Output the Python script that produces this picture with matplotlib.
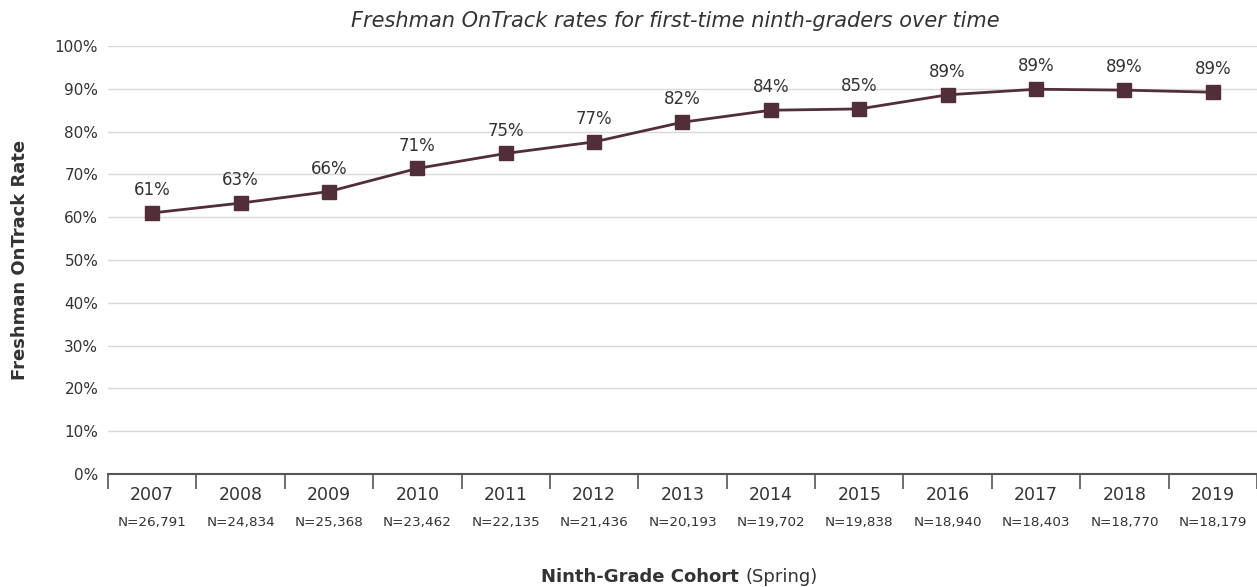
import matplotlib.pyplot as plt
import matplotlib.transforms as mtransforms
import numpy as np

years = ['2007', '2008', '2009', '2010', '2011', '2012', '2013',
         '2014', '2015', '2016', '2017', '2018', '2019']
counts = ['N=26,791', 'N=24,834', 'N=25,368', 'N=23,462', 'N=22,135', 'N=21,436',
          'N=20,193', 'N=19,702', 'N=19,838', 'N=18,940', 'N=18,403', 'N=18,770',
          'N=18,179']
rates = [61.0, 63.3, 66.0, 71.4, 74.9, 77.6, 82.2, 85.0, 85.3, 88.6, 89.9, 89.7, 89.2]
labels = ['61%', '63%', '66%', '71%', '75%', '77%', '82%',
          '84%', '85%', '89%', '89%', '89%', '89%']

plt.rcParams['font.family'] = ['DejaVu Sans']
text_color = '#333333'
line_color = '#522e39'

fig = plt.figure(figsize=(12.57, 5.87), dpi=100)
ax = fig.add_axes([0.0859, 0.1925, 0.9141, 0.7291])

x = np.arange(len(years))
ax.plot(x, rates, color=line_color, linewidth=2, marker='s', markersize=9.5,
        zorder=3)

for xi, r, lab in zip(x, rates, labels):
    ax.annotate(lab, (xi, r), xytext=(0, 10), textcoords='offset points',
                ha='center', va='bottom', fontsize=12, color=text_color)

ax.set_xlim(-0.5, len(years) - 0.5)
ax.set_ylim(0, 100)
ax.set_yticks(np.arange(0, 101, 10))
ax.set_yticklabels([f'{v}%' for v in range(0, 101, 10)], fontsize=11,
                   color=text_color)
ax.tick_params(axis='y', length=0, pad=7)
ax.grid(axis='y', color='#d9d9d9', linewidth=1)
ax.set_axisbelow(True)

# category boundary ticks on the x axis
ax.set_xticks(np.arange(-0.5, len(years) - 0.4, 1.0))
ax.set_xticklabels([])
ax.tick_params(axis='x', length=11, width=1.2, color='#555555', direction='out')

for side in ['top', 'right', 'left']:
    ax.spines[side].set_visible(False)
ax.spines['bottom'].set_color('#555555')
ax.spines['bottom'].set_linewidth(1.5)

trans = mtransforms.blended_transform_factory(ax.transData, ax.transAxes)
for xi, yr, n in zip(x, years, counts):
    ax.text(xi, -0.049, yr, transform=trans, ha='center', va='center',
            fontsize=12.5, color=text_color)
    ax.text(xi, -0.114, n, transform=trans, ha='center', va='center',
            fontsize=9.7, color=text_color)

fig.text(0.537, 0.965, 'Freshman OnTrack rates for first-time ninth-graders over time',
         ha='center', va='center', fontsize=15, style='italic', color=text_color)
fig.text(0.016, 0.557, 'Freshman OnTrack Rate', rotation=90, ha='center',
         va='center', fontsize=13, fontweight='bold', color=text_color)

fig.text(0.593, 0.017, 'Ninth-Grade Cohort ', ha='right', va='center',
         fontsize=13, fontweight='bold', color=text_color)
fig.text(0.593, 0.017, '(Spring)', ha='left', va='center',
         fontsize=13, color=text_color)

fig.savefig('out.png', dpi=100)
